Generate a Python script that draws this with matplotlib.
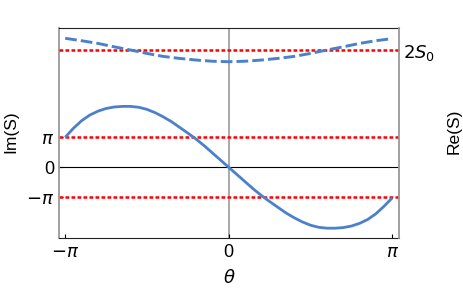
import numpy as np
import matplotlib
matplotlib.use("Agg")
import matplotlib.pyplot as plt

# theta in units of pi
theta_im = [-1.00, -0.95, -0.90, -0.85, -0.80, -0.75, -0.70, -0.65, -0.60, -0.55, -0.50,
            -0.45, -0.40, -0.35, -0.30, -0.25, -0.20, -0.15, -0.10, -0.05, 0.00,
            0.05, 0.10, 0.15, 0.20, 0.25, 0.30, 0.35, 0.40, 0.45, 0.50,
            0.55, 0.60, 0.65, 0.70, 0.75, 0.80, 0.85, 0.90, 0.95, 1.00]
# Im(S) in units of pi
im_s = [1.00, 1.30, 1.55, 1.74, 1.87, 1.96, 2.01, 2.03, 2.03, 2.00, 1.93,
        1.82, 1.68, 1.52, 1.33, 1.14, 0.94, 0.72, 0.48, 0.24, 0.00,
        -0.24, -0.48, -0.72, -0.94, -1.14, -1.33, -1.52, -1.68, -1.82, -1.93,
        -2.00, -2.03, -2.03, -2.01, -1.96, -1.87, -1.74, -1.55, -1.30, -1.02]

theta_re = [-1.0, -0.9, -0.8, -0.7, -0.6, -0.5, -0.4, -0.3, -0.2, -0.1, 0.0,
            0.1, 0.2, 0.3, 0.4, 0.5, 0.6, 0.7, 0.8, 0.9, 1.0]
# Re(S) in units of S0
re_s = [2.20, 2.16, 2.115, 2.058, 2.005, 1.948, 1.898, 1.865, 1.838, 1.818, 1.81,
        1.818, 1.838, 1.865, 1.898, 1.948, 2.005, 2.058, 2.115, 2.16, 2.195]

im_levels = [1, -1]   # +-pi
re_level = 2          # 2 S0

blue = "#4a80cc"
plt.rcParams["font.family"] = ["Liberation Sans", "DejaVu Sans"]
plt.rcParams["mathtext.fontset"] = "dejavusans"

fig = plt.figure(figsize=(4.63, 2.92), dpi=100)
ax = fig.add_axes([0.1268, 0.1839, 0.7356, 0.7192])
ax2 = ax.twinx()

ax.axhline(0, color="black", lw=0.8, zorder=1)
ax.axvline(0, color="#999999", lw=1.2, zorder=1)
for lev in im_levels:
    ax.axhline(lev * np.pi, color="red", lw=1.8, ls=(0, (1.5, 0.9)), zorder=2)
ax2.axhline(re_level, color="red", lw=1.8, ls=(0, (1.5, 0.9)), zorder=2)

ax.plot(np.array(theta_im) * np.pi, np.array(im_s) * np.pi, color=blue, lw=2.0,
        solid_capstyle="butt", zorder=3)
ax2.plot(np.array(theta_re) * np.pi, re_s, color=blue, lw=2.1, ls=(0, (4, 1.4)),
         dash_capstyle="butt", zorder=3)

ax.set_xlim(-1.0398 * np.pi, 1.0434 * np.pi)
ax.set_ylim(-2.367 * np.pi, 4.633 * np.pi)
ax2.set_ylim(-1.133, 2.367)

ax.set_xticks([-np.pi, 0, np.pi])
ax.set_xticklabels([r"$-\pi$", "0", r"$\pi$"])
ax.set_yticks([-np.pi, 0, np.pi])
ax.set_yticklabels([r"$-\pi$", "0", r"$\pi$"])
ax2.set_yticks([re_level])
ax2.set_yticklabels([r"$2S_0$"])

ax.tick_params(direction="in", length=3, width=0.8, labelsize=13, pad=4)
ax.tick_params(axis="y", pad=3)
ax2.tick_params(direction="in", length=3, width=0.8, labelsize=13, pad=2.5)

# draw each spine once
for s in ("top", "bottom", "left"):
    ax2.spines[s].set_visible(False)
ax.spines["right"].set_visible(False)
ax.spines["left"].set_color("#999999")
ax.spines["left"].set_linewidth(1.3)
ax2.spines["right"].set_color("#999999")
ax2.spines["right"].set_linewidth(1.3)
for s in ("top", "bottom"):
    ax.spines[s].set_color("#222222")
    ax.spines[s].set_linewidth(0.8)

ax.set_xlabel(r"$\theta$", fontsize=13, labelpad=6)
ax.set_ylabel("Im(S)", fontsize=12.5)
ax.yaxis.set_label_coords(-0.119, 0.51)
ax2.set_ylabel("Re(S)", fontsize=12.5)
ax2.yaxis.set_label_coords(1.139, 0.51)

fig.savefig("out.png", dpi=100)
